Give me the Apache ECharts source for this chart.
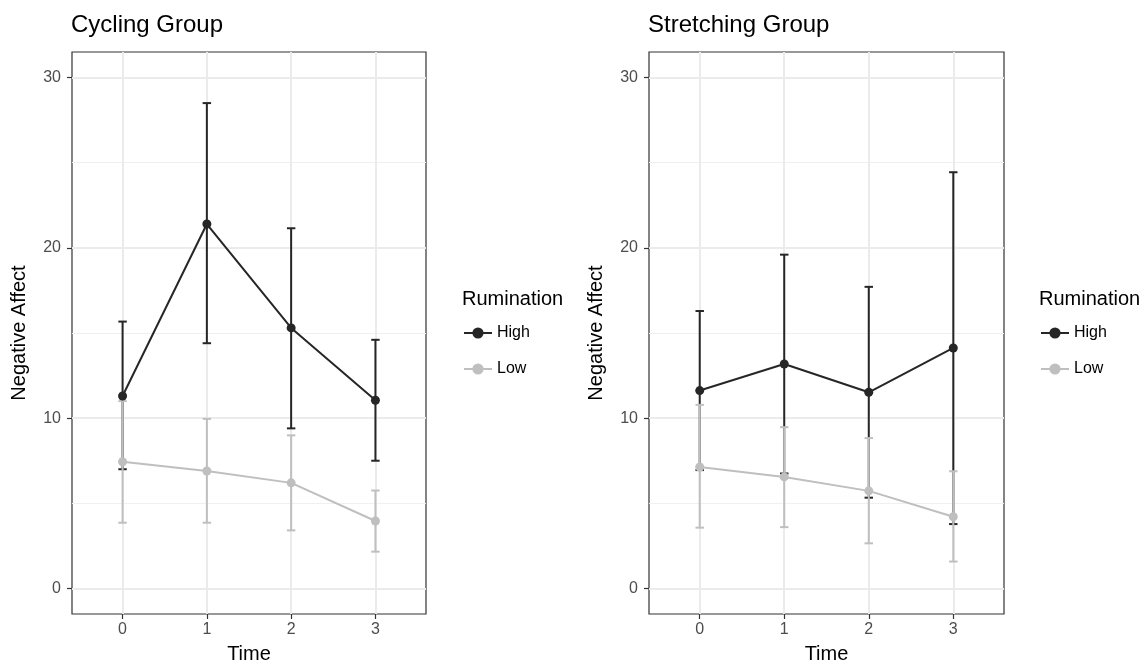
<!DOCTYPE html>
<html>
<head>
<meta charset="utf-8">
<script src="https://cdn.jsdelivr.net/npm/echarts@6/dist/echarts.min.js"></script>
<style>
html,body{margin:0;padding:0;background:#fff;}
#chart{width:1147px;height:669px;}
</style>
</head>
<body>
<div id="chart"></div>
<script>
// ---- data ----
const time = [0, 1, 2, 3];
const xTickLabels = ['0', '1', '2', '3'];
const yTickValues = [0, 10, 20, 30];
const yMinorValues = [5, 15, 25];
const groupNames = ['High', 'Low'];
const panelTitles = ['Cycling Group', 'Stretching Group'];

const cyclingHighMean  = [11.3, 21.4, 15.3, 11.05];
const cyclingHighUpper = [15.67, 28.5, 21.15, 14.6];
const cyclingHighLower = [7.0, 14.4, 9.4, 7.5];
const cyclingLowMean   = [7.44, 6.9, 6.2, 3.96];
const cyclingLowUpper  = [11.0, 9.96, 8.99, 5.75];
const cyclingLowLower  = [3.86, 3.86, 3.41, 2.16];

const stretchHighMean  = [11.62, 13.18, 11.52, 14.12];
const stretchHighUpper = [16.29, 19.6, 17.71, 24.44];
const stretchHighLower = [6.95, 6.75, 5.33, 3.78];
const stretchLowMean   = [7.13, 6.55, 5.73, 4.21];
const stretchLowUpper  = [10.78, 9.47, 8.83, 6.88];
const stretchLowLower  = [3.57, 3.6, 2.65, 1.58];

// ---- styling ----
const FONT = '"Liberation Sans", Arial, Helvetica, sans-serif';
const DARK = '#262626';
const LIGHT = '#BFBFBF';
const GRID = '#EBEBEB';

const panels = [
  {left: 72, width: 354, high: [cyclingHighMean, cyclingHighLower, cyclingHighUpper], low: [cyclingLowMean, cyclingLowLower, cyclingLowUpper], legendLeft: 462},
  {left: 649, width: 355, high: [stretchHighMean, stretchHighLower, stretchHighUpper], low: [stretchLowMean, stretchLowLower, stretchLowUpper], legendLeft: 1039}
];

function errRender(color) {
  return function (params, api) {
    const x = api.value(0), lo = api.value(1), hi = api.value(2);
    const pLo = api.coord([x, lo]);
    const pHi = api.coord([x, hi]);
    const half = (api.coord([x + 0.05, lo])[0] - pLo[0]);
    const st = {stroke: color, lineWidth: 2};
    return {
      type: 'group',
      children: [
        {type: 'line', shape: {x1: pLo[0], y1: pLo[1], x2: pHi[0], y2: pHi[1]}, style: st},
        {type: 'line', shape: {x1: pHi[0] - half, y1: pHi[1], x2: pHi[0] + half, y2: pHi[1]}, style: st},
        {type: 'line', shape: {x1: pLo[0] - half, y1: pLo[1], x2: pLo[0] + half, y2: pLo[1]}, style: st}
      ]
    };
  };
}

const grids = [], xAxes = [], yAxes = [], series = [], titles = [], legends = [];

panels.forEach((p, i) => {
  grids.push({left: p.left, top: 52, width: p.width, height: 567, show: true,
    borderColor: '#333333', borderWidth: 1.2, backgroundColor: '#fff', containLabel: false});
  xAxes.push({
    type: 'value', gridIndex: i, min: -0.6, max: 3.6, position: 'bottom',
    name: 'Time', nameLocation: 'middle', nameGap: 30,
    nameTextStyle: {fontFamily: FONT, fontSize: 20, color: '#000', verticalAlign: 'top'},
    axisLine: {show: false, onZero: false},
    axisTick: {show: true, length: 5, lineStyle: {color: '#333333', width: 1.2}, customValues: time},
    axisLabel: {show: true, margin: 8, fontFamily: FONT, fontSize: 16, color: '#4D4D4D',
      customValues: time, formatter: v => xTickLabels[time.indexOf(v)]},
    splitLine: {show: true, lineStyle: {color: GRID, width: 2}}
  });
  yAxes.push({
    type: 'value', gridIndex: i, min: -1.5, max: 31.5, position: 'left',
    name: 'Negative Affect', nameLocation: 'middle', nameGap: 43, nameRotate: 90,
    nameTextStyle: {fontFamily: FONT, fontSize: 20, color: '#000'},
    axisLine: {show: false, onZero: false},
    axisTick: {show: true, length: 5, lineStyle: {color: '#333333', width: 1.2}, customValues: yTickValues},
    axisLabel: {show: true, margin: 11, fontFamily: FONT, fontSize: 16, color: '#4D4D4D', customValues: yTickValues},
    splitLine: {show: true, lineStyle: {color: GRID, width: 2}}
  });
  yAxes.push({
    type: 'value', gridIndex: i, min: -1.5, max: 31.5, position: 'left',
    axisLine: {show: false, onZero: false},
    axisTick: {show: false, customValues: yMinorValues},
    axisLabel: {show: false, customValues: yMinorValues},
    splitLine: {show: true, lineStyle: {color: '#F0F0F0', width: 1.2}}
  });
  const yIdx = i * 2;
  const groups = [{name: 'High', d: p.high, color: DARK}, {name: 'Low', d: p.low, color: LIGHT}];
  groups.forEach((g, gi) => {
    series.push({
      type: 'custom', xAxisIndex: i, yAxisIndex: yIdx, silent: true,
      renderItem: errRender(g.color), z: 2 + gi,
      encode: {x: 0, y: [1, 2]},
      data: time.map((t, k) => [t, g.d[1][k], g.d[2][k]])
    });
  });
  groups.forEach((g, gi) => {
    series.push({
      type: 'line', name: g.name, xAxisIndex: i, yAxisIndex: yIdx, z: 4 + gi,
      data: time.map((t, k) => [t, g.d[0][k]]),
      symbol: 'circle', symbolSize: 9, showSymbol: true,
      lineStyle: {color: g.color, width: 2},
      itemStyle: {color: g.color, borderWidth: 0},
      emphasis: {disabled: true}, animation: false
    });
  });
  titles.push({text: panelTitles[i], left: p.left - 1, top: 13, padding: 0,
    textStyle: {fontFamily: FONT, fontSize: 24, fontWeight: 'normal', color: '#000'}});
  titles.push({text: 'Rumination', left: p.legendLeft, top: 289, padding: 0,
    textStyle: {fontFamily: FONT, fontSize: 20, fontWeight: 'normal', color: '#000'}});
  legends.push({
    data: groupNames, orient: 'vertical', left: p.legendLeft + 1, top: 325, padding: 0,
    itemWidth: 28, itemHeight: 14, itemGap: 20,
    textStyle: {fontFamily: FONT, fontSize: 16, color: '#000'},
    selectedMode: false
  });
});

const chart = echarts.init(document.getElementById('chart'), null, {renderer: 'canvas'});
chart.setOption({
  animation: false,
  backgroundColor: '#fff',
  title: titles,
  legend: legends,
  grid: grids,
  xAxis: xAxes,
  yAxis: yAxes,
  series: series
});
</script>
</body>
</html>
